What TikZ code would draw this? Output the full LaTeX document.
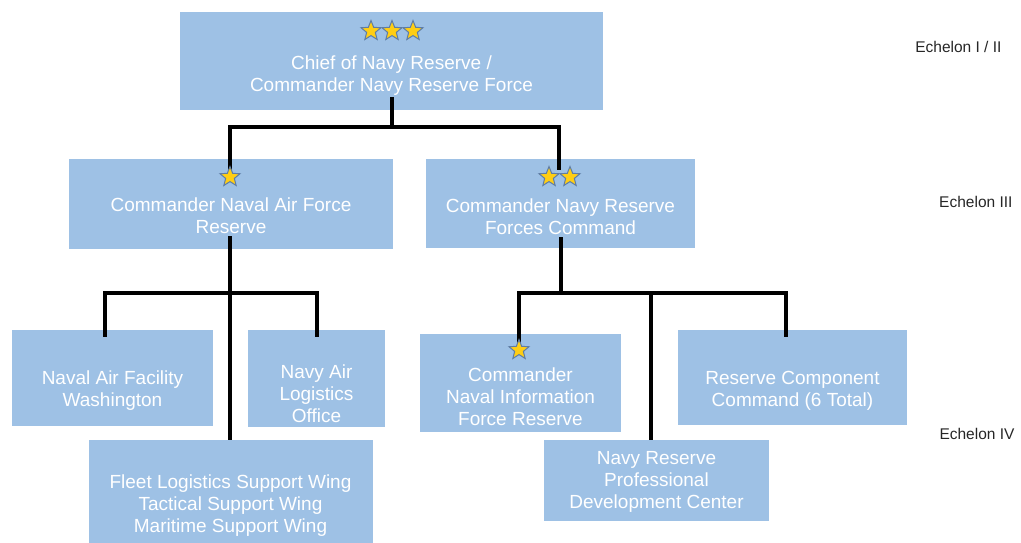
\documentclass[tikz,border=0pt]{standalone}
\usepackage{fontspec}
\setmainfont{Liberation Sans}
\usetikzlibrary{shapes.geometric}
\definecolor{boxblue}{RGB}{158,193,229}
\definecolor{starfill}{RGB}{255,206,20}
\definecolor{staredge}{RGB}{95,125,165}
\tikzset{
  unit/.style={rectangle, fill=boxblue, inner sep=0pt},
  unittext/.style={text=white, align=center, inner sep=0pt, font=\fontsize{19}{22}\selectfont},
  rank/.style={star, star points=5, star point ratio=2.3, minimum size=21pt, inner sep=0pt, fill=starfill, draw=staredge, line width=1pt},
  echelon/.style={anchor=east, text=black!85, font=\fontsize{15.5}{18}\selectfont},
  link/.style={line width=3.5pt, black}
}
\begin{document}
\begin{tikzpicture}[x=1pt,y=-1pt]
  \useasboundingbox (0,0) rectangle (1021,543);
  \draw
    (391.5,61) node[unit, minimum width=423pt, minimum height=98pt] (chief){}
    (231,204) node[unit, minimum width=324pt, minimum height=90pt] (cnafr){}
    (560.5,203.5) node[unit, minimum width=269pt, minimum height=89pt] (cnrfc){}
    (112.5,378) node[unit, minimum width=201pt, minimum height=96pt] (naf){}
    (316.5,378.5) node[unit, minimum width=137pt, minimum height=97pt] (nalo){}
    (230.5,494) node[unit, minimum width=284pt, minimum height=108pt] (fleet){}
    (520.5,383) node[unit, minimum width=201pt, minimum height=98pt] (cnifr){}
    (656.5,480.5) node[unit, minimum width=225pt, minimum height=81pt] (nrpdc){}
    (792.5,377.5) node[unit, minimum width=229pt, minimum height=95pt] (rcc){};
  \coordinate (chief-out) at (392,97);
  \coordinate (bus0) at (392,127);
  \coordinate (cnafr-in) at (230,177);
  \coordinate (cnrfc-in) at (559,170);
  \coordinate (cnafr-out) at (230,236);
  \coordinate (bus1) at (230,293);
  \coordinate (naf-in) at (105,337);
  \coordinate (nalo-in) at (317,337);
  \coordinate (fleet-in) at (230,440);
  \coordinate (cnrfc-out) at (561,237);
  \coordinate (bus2) at (561,293);
  \coordinate (cnifr-in) at (519,350);
  \coordinate (nrpdc-in) at (651,440);
  \coordinate (rcc-in) at (786,337);
  \begin{scope}[link]
    \draw (chief-out) -- (bus0);
    \draw (bus0) -| (cnafr-in);
    \draw (bus0) -| (cnrfc-in);
    \draw (cnafr-out) -- (fleet-in);
    \draw (bus1) -| (naf-in);
    \draw (bus1) -| (nalo-in);
    \draw (cnrfc-out) -- (bus2);
    \draw (bus2) -| (cnifr-in);
    \draw (bus2) -| (rcc-in);
    \draw (bus2 -| nrpdc-in) -- (nrpdc-in);
  \end{scope}
  \draw
    (371,31) node[rank] (chief-s1){}
    (392,31) node[rank] (chief-s2){}
    (413,31) node[rank] (chief-s3){}
    (230,177) node[rank] (cnafr-s1){}
    (549,177) node[rank] (cnrfc-s1){}
    (570,177) node[rank] (cnrfc-s2){}
    (519,350) node[rank] (cnifr-s1){};
  \draw
    (391.5,76) node[unittext] (chief-t){Chief of Navy Reserve /\\Commander Navy Reserve Force}
    (231,216) node[unittext] (cnafr-t){Commander Naval Air Force\\Reserve}
    (560.5,217) node[unittext] (cnrfc-t){Commander Navy Reserve\\Forces Command}
    (112.5,391) node[unittext] (naf-t){Naval Air Facility\\Washington}
    (316.5,394) node[unittext] (nalo-t){Navy Air\\Logistics\\Office}
    (230.5,506) node[unittext] (fleet-t){Fleet Logistics Support Wing\\Tactical Support Wing\\Maritime Support Wing}
    (520.5,397) node[unittext] (cnifr-t){Commander\\Naval Information\\Force Reserve}
    (656.5,482) node[unittext] (nrpdc-t){Navy Reserve\\Professional\\Development Center}
    (792.5,391) node[unittext] (rcc-t){Reserve Component\\Command (6 Total)};
  \draw
    (1005,47) node[echelon] (ech12){Echelon I / II}
    (1016,202) node[echelon] (ech3){Echelon III}
    (1018,434) node[echelon] (ech4){Echelon IV};
\end{tikzpicture}
\end{document}
